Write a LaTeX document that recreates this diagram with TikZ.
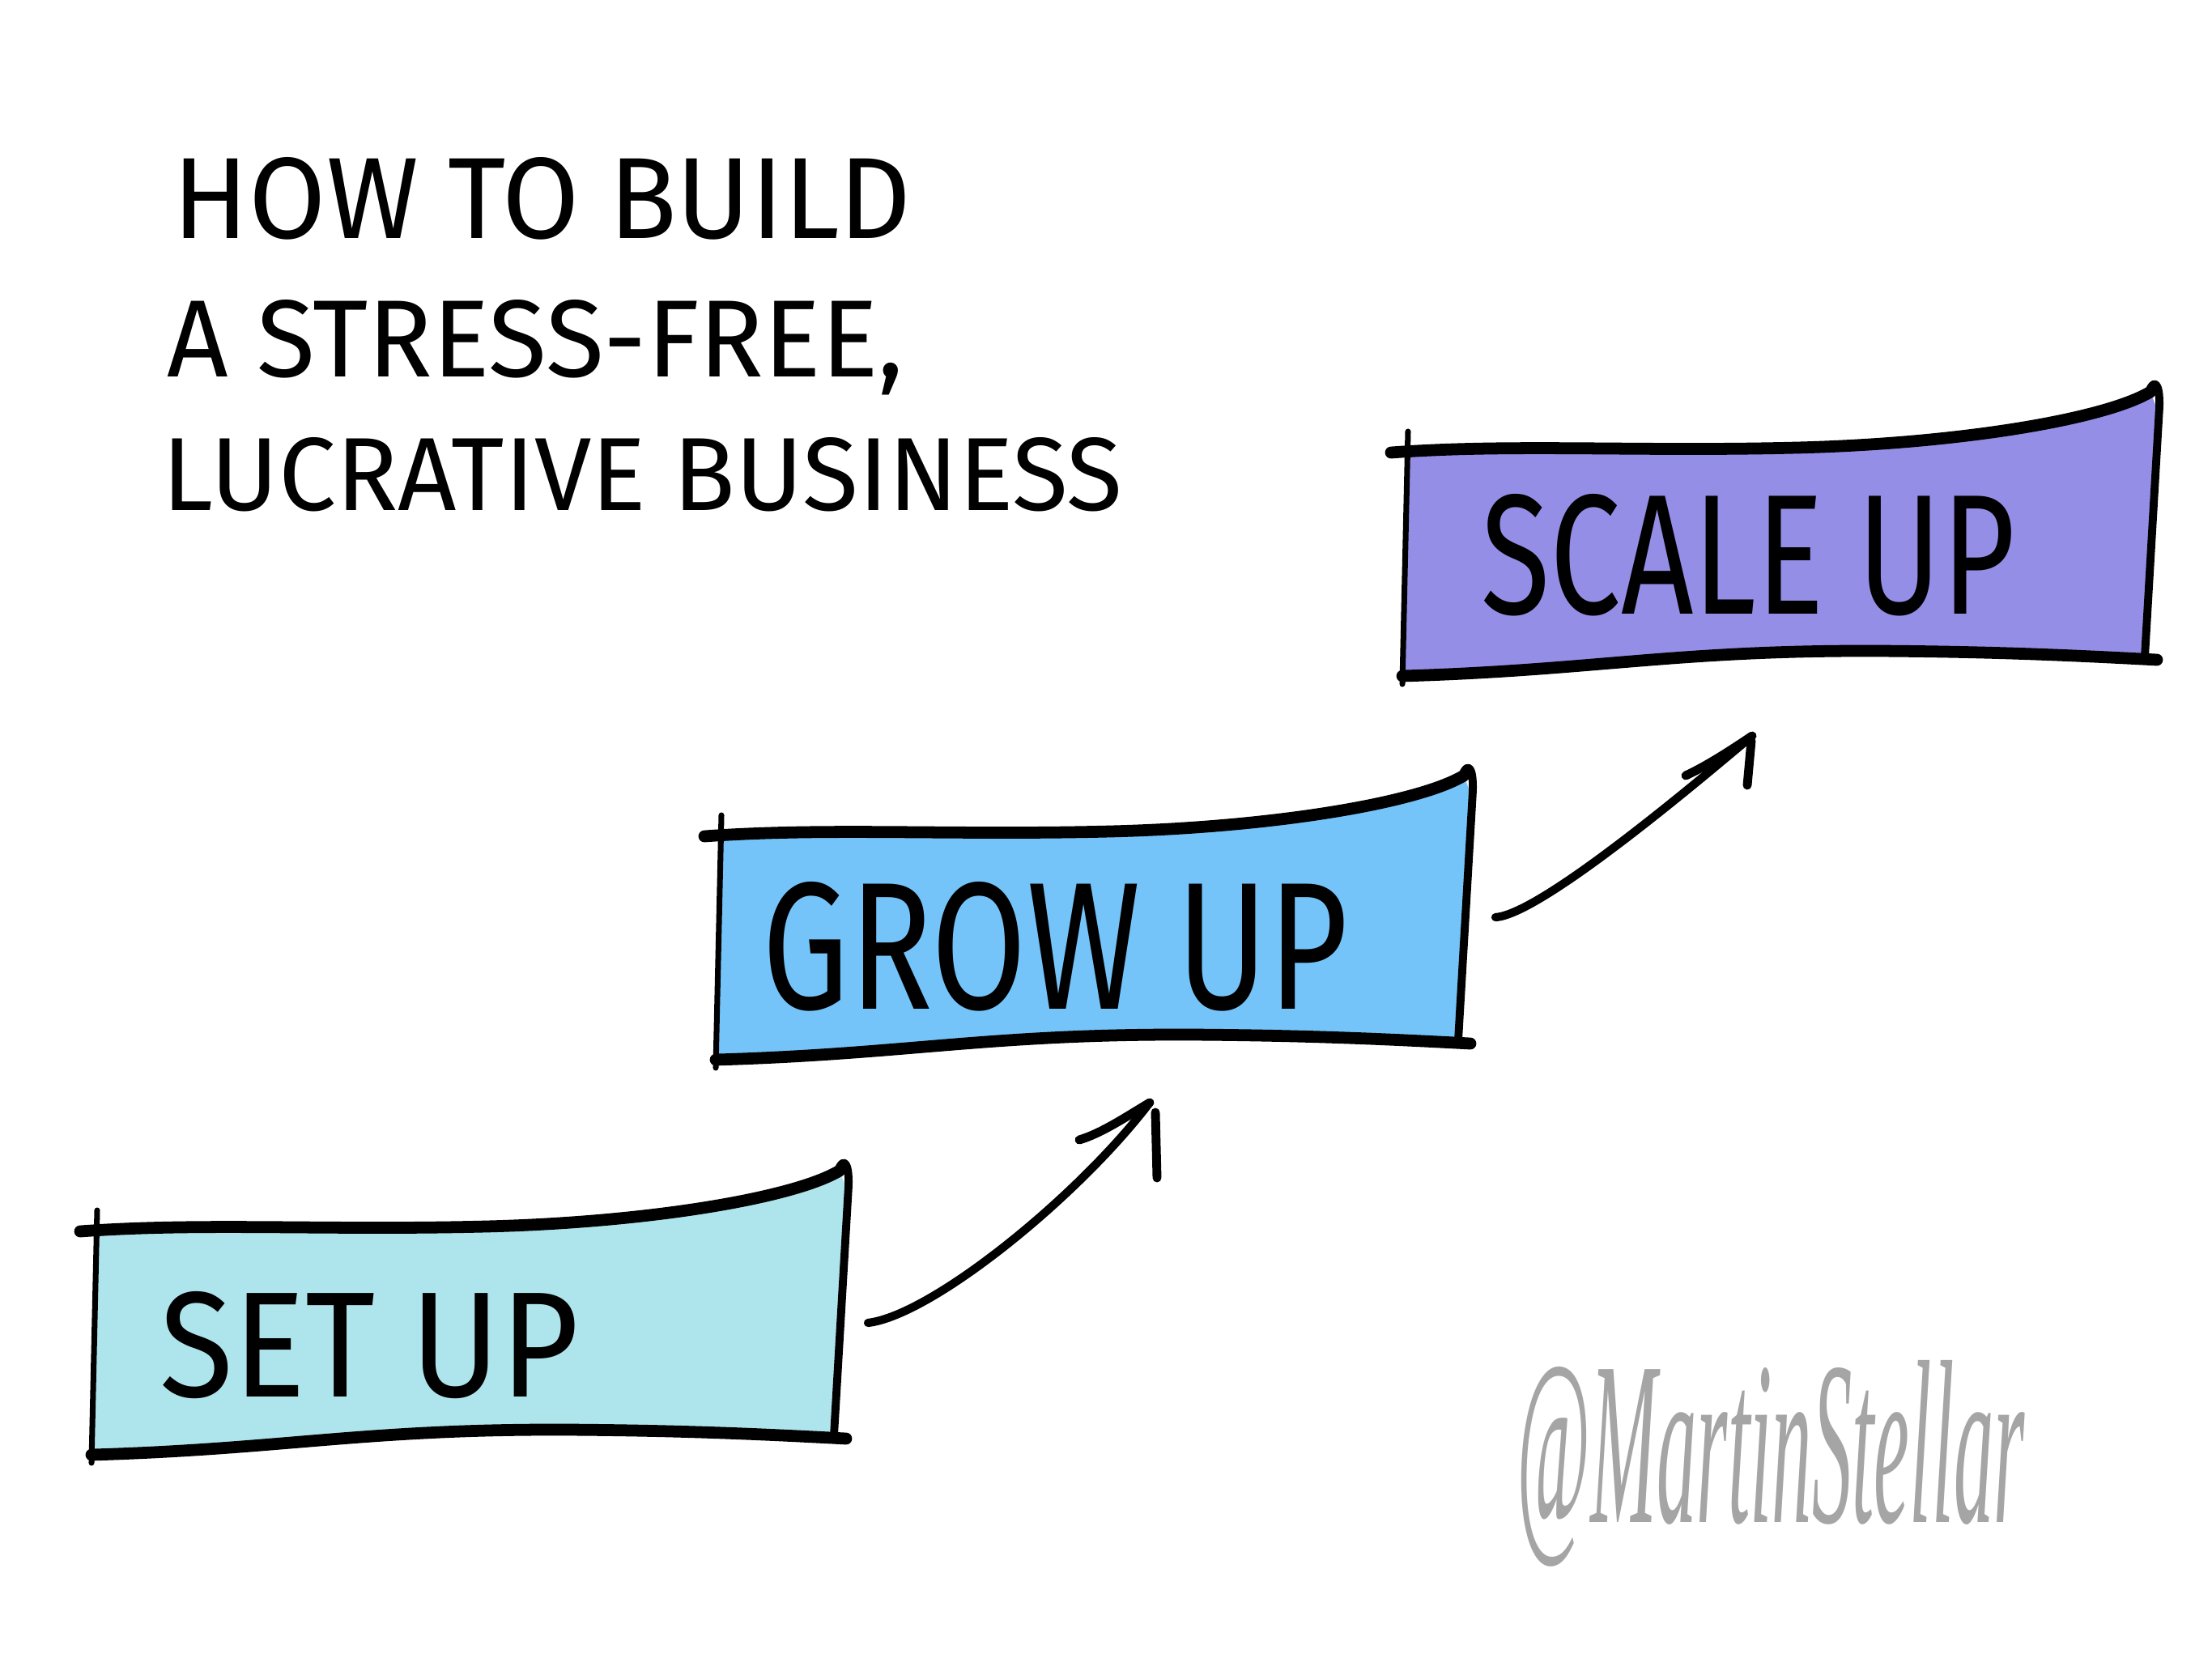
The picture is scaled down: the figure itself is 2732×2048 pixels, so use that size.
\documentclass[tikz,border=0pt]{standalone}
\usepackage{fontspec}
\setmainfont{Fira Sans}
\newfontfamily\sigfont{Liberation Serif}
\definecolor{setupc}{RGB}{174,228,236}
\definecolor{growc}{RGB}{117,196,249}
\definecolor{scalec}{RGB}{148,142,231}
\definecolor{sigc}{RGB}{165,165,165}
\tikzset{
  edgeline/.style={line width=4.2pt, line cap=round},
  sideline/.style={line width=2pt, line cap=round},
  rightline/.style={line width=2.8pt, line cap=round, line join=round},
  arrowline/.style={line width=2.9pt, line cap=round, line join=round},
  barbline/.style={line width=3.1pt, line cap=round},
  txt/.style={inner sep=0pt, anchor=base west},
}
\newcommand\sketchbox[2]{%
  \begin{scope}[shift={#1}]
    \fill[#2] (0,-5) .. controls (150,-15) and (282,-5) .. (482,-10)
      .. controls (682,-15) and (862,-45) .. (919,-79)
      -- (926,-60) -- (912,248)
      .. controls (832,245) and (732,242) .. (582,241)
      .. controls (332,240) and (232,265) .. (-3,272) -- cycle;
    \draw[edgeline] (-19,-4) .. controls (132,-15) and (282,-5) .. (482,-10)
      .. controls (682,-15) and (862,-45) .. (919,-79);
    \draw[rightline] (917,-79) .. controls (922,-94) and (931,-94) .. (930,-60)
      -- (912,248);
    \draw[edgeline] (-5,272) .. controls (232,265) and (332,240) .. (582,241)
      .. controls (732,242) and (832,247) .. (927,252);
    \draw[sideline] (2,-30) -- (-5,282);
  \end{scope}}
\begin{document}
\begin{tikzpicture}[x=0.01cm,y=-0.01cm]
\useasboundingbox (0,0) rectangle (2732,2048);
\fill[white] (0,0) rectangle (2732,2048);

% title
\node[txt] (t1) at (213,294) {\resizebox{9.11cm}{1.0cm}{HOW TO BUILD}};
\node[txt] (t2) at (206,465) {\resizebox{9.09cm}{0.95cm}{A STRESS-FREE,}};
\node[txt] (t3) at (200,630) {\resizebox{11.85cm}{0.9cm}{LUCRATIVE BUSINESS}};

% boxes
\sketchbox{(118,1525)}{setupc}
\sketchbox{(889,1037)}{growc}
\sketchbox{(1737,563)}{scalec}

\node[txt] (setup) at (197,1725) {\resizebox{5.17cm}{1.3cm}{SET UP}};
\node[txt] (growup) at (941,1246) {\resizebox{7.23cm}{1.57cm}{GROW UP}};
\node[txt] (scaleup) at (1829,758) {\resizebox{6.59cm}{1.48cm}{SCALE UP}};

% arrows
\coordinate (a1s) at (1072,1634);
\coordinate (a1e) at (1420,1362);
\coordinate (a1b) at (1333,1408);
\coordinate (a1c) at (1427,1374);
\coordinate (a1d) at (1429,1455);
\draw[arrowline] (a1s) .. controls (1150,1625) and (1330,1480) .. (a1e);
\draw[barbline] (a1b) .. controls (1360,1400) and (1390,1380) .. (a1e);
\draw[barbline] (a1c) -- (a1d);

\coordinate (a2s) at (1847,1133);
\coordinate (a2e) at (2164,909);
\coordinate (a2b) at (2082,958);
\coordinate (a2c) at (2163,915);
\coordinate (a2d) at (2158,970);
\draw[arrowline] (a2s) .. controls (1900,1130) and (2080,980) .. (a2e);
\draw[barbline] (a2b) .. controls (2110,945) and (2140,925) .. (a2e);
\draw[barbline] (a2c) -- (a2d);

% signature
\node[txt, text=sigc] (sig) at (1873,1880) {\resizebox{6.27cm}{2.0cm}{\sigfont\itshape @MartinStellar}};
\end{tikzpicture}
\end{document}
